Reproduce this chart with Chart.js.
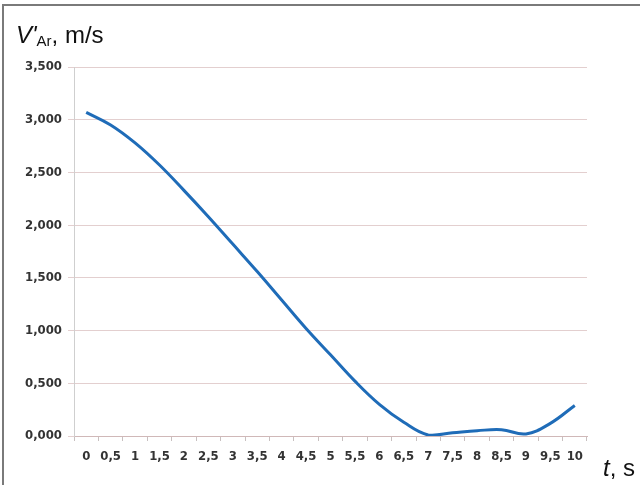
<!DOCTYPE html>
<html>
<head>
<meta charset="utf-8">
<script src="https://cdn.jsdelivr.net/npm/chart.js@4"></script>
<style>
  html, body { margin: 0; padding: 0; background: #fff; }
  #wrap { position: relative; width: 640px; height: 485px; overflow: hidden; }
  #frame { position: absolute; left: 2px; top: 4px; width: 700px; height: 600px;
           border-left: 2px solid #7a7a7a; border-top: 2px solid #7a7a7a; }
  .lbl { position: absolute; font-family: "Liberation Sans", Arial, sans-serif; color: #111; font-size: 24px; }
  .lbl i { font-style: italic; }
  .lbl sub { font-size: 15px; vertical-align: -3px; }
</style>
</head>
<body>
<div id="wrap">
  <div id="frame"></div>
  <canvas id="myChart" width="640" height="485"></canvas>
  <div class="lbl" style="left:16px; top:21px;"><i>V'</i><sub>Ar</sub>, m/s</div>
  <div class="lbl" style="left:603px; top:454px;"><i>t</i>, s</div>
</div>
<script>
const times = ['0', '0,5', '1', '1,5', '2', '2,5', '3', '3,5', '4', '4,5', '5',
  '5,5', '6', '6,5', '7', '7,5', '8', '8,5', '9', '9,5', '10'];
const speed = [3.07, 2.95, 2.78, 2.57, 2.33, 2.08, 1.82, 1.56, 1.29, 1.02, 0.77,
  0.52, 0.30, 0.13, 0.01, 0.03, 0.05, 0.06, 0.02, 0.12, 0.29];

const tickFont = { family: '"DejaVu Sans Condensed", "Liberation Sans Narrow", Arial', size: 13, weight: 'bold' };

const ctx = document.getElementById('myChart');

new Chart(ctx, {
  type: 'line',
  data: {
    labels: times,
    datasets: [{
      data: speed,
      borderColor: '#1f6cb8',
      borderWidth: 3,
      pointRadius: 0,
      tension: 0.4,
      fill: false
    }]
  },
  options: {
    responsive: false,
    animation: false,
    layout: { padding: { top: 67, right: 53, bottom: 0, left: 0 } },
    plugins: { legend: { display: false }, tooltip: { enabled: false } },
    scales: {
      x: {
        offset: true,
        grid: { offset: true, drawOnChartArea: false, drawTicks: true, tickLength: 5, color: '#c8c0c0' },
        border: { color: '#d0b8b8' },
        ticks: { autoSkip: false, maxRotation: 0, padding: 8, color: '#333', font: tickFont },
        afterFit: (s) => { s.height = 49; }
      },
      y: {
        min: 0,
        max: 3.5,
        grid: { color: '#e3cfcf', tickLength: 6, drawTicks: true },
        border: { color: '#cfcfcf' },
        ticks: {
          stepSize: 0.5, padding: 6, color: '#333', font: tickFont,
          callback: (v) => v.toFixed(3).replace('.', ',')
        },
        afterFit: (s) => { s.width = 74; }
      }
    }
  }
});
</script>
</body>
</html>
